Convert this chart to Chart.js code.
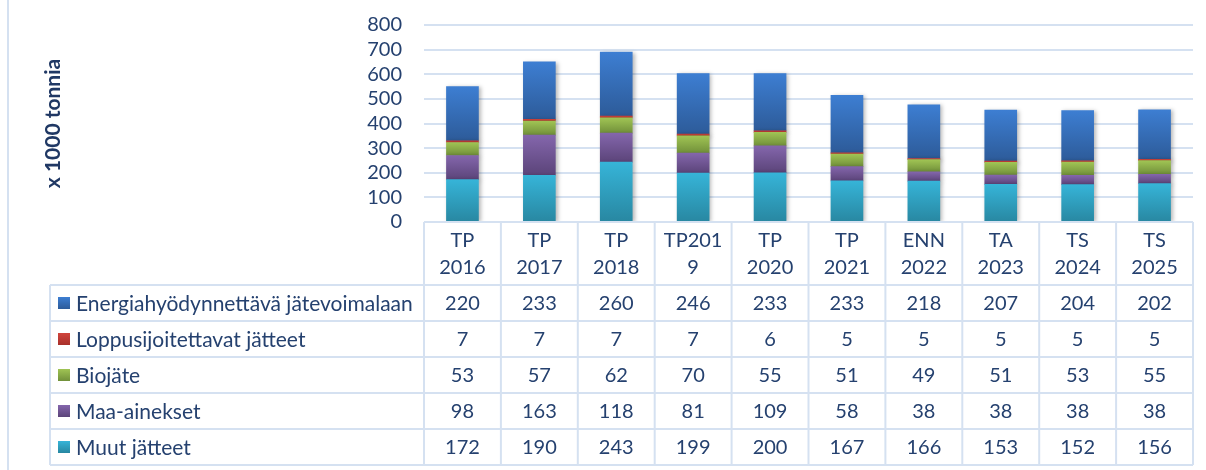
<!DOCTYPE html>
<html>
<head>
<meta charset="utf-8">
<script src="https://cdn.jsdelivr.net/npm/chart.js@4.4.1/dist/chart.umd.min.js"></script>
<style>
  html,body{margin:0;padding:0;background:#fff}
  #wrap{width:1206px;height:470px;position:relative}
</style>
</head>
<body>
<div id="wrap"><canvas id="c"></canvas></div>
<script>
const labels = [['TP','2016'],['TP','2017'],['TP','2018'],['TP201','9'],['TP','2020'],['TP','2021'],['ENN','2022'],['TA','2023'],['TS','2024'],['TS','2025']]
const muut = [172,190,243,199,200,167,166,153,152,156]
const maa = [98,163,118,81,109,58,38,38,38,38]
const bio = [53,57,62,70,55,51,49,51,53,55]
const loppu = [7,7,7,7,6,5,5,5,5,5]
const energia = [220,233,260,246,233,233,218,207,204,202]
const yTicks = [0,100,200,300,400,500,600,700,800]

const TXT = '#25416F', GRID = '#D5E1F1', FONT = 'Lato'

// bottom -> top stacking order; light/dark for the gradient
const series = [
  { label:'Muut jätteet', data:muut, light:'#36B4D8', dark:'#2887A1' },
  { label:'Maa-ainekset', data:maa, light:'#8466AC', dark:'#5B4479' },
  { label:'Biojäte', data:bio, light:'#A0C454', dark:'#71903A' },
  { label:'Loppusijoitettavat jätteet', data:loppu, light:'#D0443C', dark:'#A8302B' },
  { label:'Energiahyödynnettävä jätevoimalaan', data:energia, light:'#3D7ED2', dark:'#2D5B99' }
]

function segFill(ctx, di) {
  const chart = ctx.chart, s = series[di]
  if (!chart.chartArea || ctx.dataIndex == null) return s.light
  const y = chart.scales.y, i = ctx.dataIndex
  let base = 0
  for (let k = 0; k < di; k++) base += series[k].data[i]
  const top = y.getPixelForValue(base + s.data[i]), bot = y.getPixelForValue(base)
  if (!isFinite(top) || !isFinite(bot) || top === bot) return s.light
  const g = chart.ctx.createLinearGradient(0, top, 0, bot)
  g.addColorStop(0, s.light); g.addColorStop(1, s.dark)
  return g
}

const shadowPlugin = {
  id:'barShadow',
  beforeDatasetsDraw(chart){ const c = chart.ctx; c.save(); c.shadowColor='rgba(0,0,0,0.28)'; c.shadowBlur=4; c.shadowOffsetX=2; c.shadowOffsetY=1 },
  afterDatasetsDraw(chart){ chart.ctx.restore() }
}

const tablePlugin = {
  id:'dataTable',
  afterDraw(chart){
    const { ctx, chartArea:a } = chart
    const n = labels.length, w = (a.right - a.left) / n
    const hTop = a.bottom, hBot = a.bottom + 63, rowH = 36, legL = 50
    const rows = series.slice().reverse()
    const tBot = hBot + rowH * rows.length
    ctx.save()
    // page border at left
    ctx.strokeStyle = GRID; ctx.lineWidth = 2
    ctx.beginPath(); ctx.moveTo(8, 0); ctx.lineTo(8, 470); ctx.stroke()
    // table lines
    ctx.beginPath()
    ctx.moveTo(a.left, hTop); ctx.lineTo(a.right, hTop)
    for (let r = 0; r <= rows.length; r++) { const yy = hBot + r * rowH; ctx.moveTo(legL, yy); ctx.lineTo(a.right, yy) }
    for (let c = 0; c <= n; c++) { const xx = a.left + c * w; ctx.moveTo(xx, hTop); ctx.lineTo(xx, tBot) }
    ctx.moveTo(legL, hBot); ctx.lineTo(legL, tBot)
    ctx.stroke()
    // header text
    ctx.fillStyle = TXT; ctx.font = `20px ${FONT}`; ctx.textAlign = 'center'; ctx.textBaseline = 'middle'
    labels.forEach((l, i) => {
      const cx = a.left + (i + 0.5) * w
      ctx.fillText(l[0], cx, hTop + 19); ctx.fillText(l[1], cx, hTop + 46)
    })
    // rows
    rows.forEach((s, r) => {
      const cy = hBot + r * rowH + rowH / 2
      const g = ctx.createLinearGradient(0, cy - 6, 0, cy + 6)
      g.addColorStop(0, s.light); g.addColorStop(1, s.dark)
      ctx.fillStyle = g; ctx.fillRect(58, cy - 6, 12, 12)
      ctx.fillStyle = TXT; ctx.textAlign = 'left'
      ctx.font = `21px ${FONT}`
      ctx.fillText(s.label, 76, cy + 1)
      ctx.font = `20px ${FONT}`
      ctx.textAlign = 'center'
      s.data.forEach((v, i) => ctx.fillText(String(v), a.left + (i + 0.5) * w, cy + 1))
    })
    ctx.restore()
  }
}

new Chart(document.getElementById('c'), {
  type:'bar',
  data:{
    labels: labels.map(l => l.join(' ')),
    datasets: series.map((s, di) => ({
      label:s.label, data:s.data, backgroundColor:ctx => segFill(ctx, di),
      borderWidth:0, barThickness:32
    }))
  },
  options:{
    responsive:true, maintainAspectRatio:false, animation:false,
    layout:{ padding:{ left:37, right:13, top:25, bottom:248 } },
    plugins:{ legend:{display:false}, tooltip:{enabled:false} },
    scales:{
      x:{ stacked:true, display:false },
      y:{
        stacked:true, min:0, max:800,
        afterBuildTicks: s => { s.ticks = yTicks.map(v => ({ value:v })) },
        afterFit: s => { s.width = 387 },
        border:{ display:false },
        grid:{ color:GRID, lineWidth:2, tickLength:19, tickColor:'transparent' },
        ticks:{ color:TXT, padding:3, autoSkip:false, font:{ family:FONT, size:20 } },
        title:{ display:true, text:'x 1000 tonnia', color:'#203864', font:{ family:FONT, size:21, weight:'bold' } }
      }
    }
  },
  plugins:[shadowPlugin, tablePlugin]
})
</script>
</body>
</html>
